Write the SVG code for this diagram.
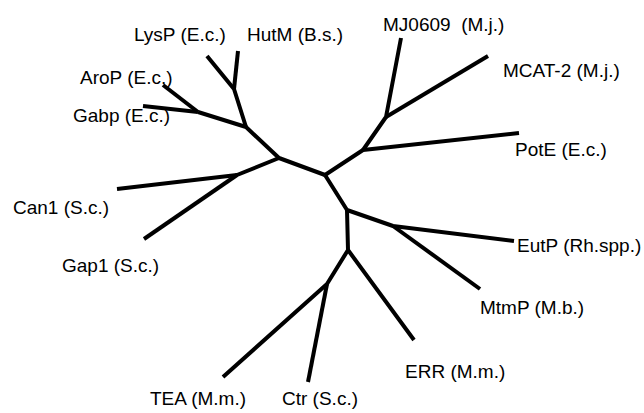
<svg xmlns="http://www.w3.org/2000/svg" width="644" height="413" viewBox="0 0 644 413">
<style>
.br{fill:none;stroke:#000;stroke-width:4;stroke-linecap:butt;stroke-linejoin:round}
.lb{font-family:"Liberation Sans",Arial,sans-serif;font-size:19px;fill:#000}
</style>
<rect width="644" height="413" fill="#fff"/>
<g id="connectors">
<path class="br" d="M325,175 L279,158 L246,127 L198,112"/>
<path class="br" d="M246,127 L234,89 L207,56"/>
<path class="br" d="M234,89 L238,51"/>
<path class="br" d="M198,112 L163,85"/>
<path class="br" d="M198,112 L143,106"/>
<path class="br" d="M279,158 L237,175 L117,189"/>
<path class="br" d="M237,175 L144,239"/>
<path class="br" d="M325,175 L363,150 L519,133"/>
<path class="br" d="M363,150 L386,117 L401,38"/>
<path class="br" d="M386,117 L488,56"/>
<path class="br" d="M325,175 L347,210 L393,226 L514,241"/>
<path class="br" d="M393,226 L480,289"/>
<path class="br" d="M347,210 L348,250 L414,340"/>
<path class="br" d="M348,250 L327,284 L223,377"/>
<path class="br" d="M327,284 L308,382"/>
</g>
<g id="LysP"><text class="lb" x="134" y="41">LysP (E.c.)</text></g>
<g id="HutM"><text class="lb" x="247" y="41">HutM (B.s.)</text></g>
<g id="MJ0609"><text class="lb" x="383" y="31" xml:space="preserve">MJ0609  (M.j.)</text></g>
<g id="MCAT-2"><text class="lb" x="503" y="77">MCAT-2 (M.j.)</text></g>
<g id="AroP"><text class="lb" x="80" y="84">AroP (E.c.)</text></g>
<g id="Gabp"><text class="lb" x="73" y="122">Gabp (E.c.)</text></g>
<g id="Can1"><text class="lb" x="13" y="214">Can1 (S.c.)</text></g>
<g id="Gap1"><text class="lb" x="62" y="272">Gap1 (S.c.)</text></g>
<g id="PotE"><text class="lb" x="515" y="156">PotE (E.c.)</text></g>
<g id="EutP"><text class="lb" x="517" y="252">EutP (Rh.spp.)</text></g>
<g id="MtmP"><text class="lb" x="480" y="314">MtmP (M.b.)</text></g>
<g id="ERR"><text class="lb" x="405" y="378">ERR (M.m.)</text></g>
<g id="TEA"><text class="lb" x="150" y="405">TEA (M.m.)</text></g>
<g id="Ctr"><text class="lb" x="282" y="405">Ctr (S.c.)</text></g>
</svg>
